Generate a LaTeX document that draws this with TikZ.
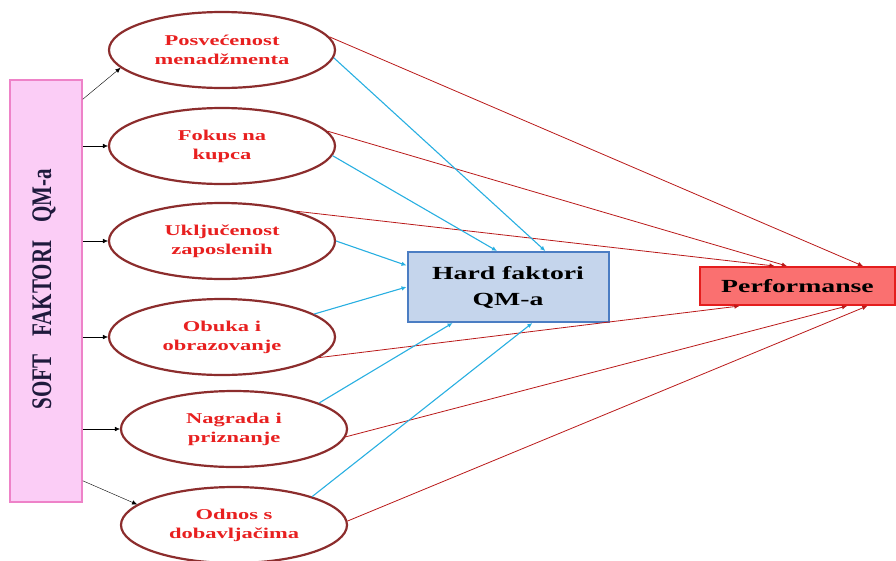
\documentclass[tikz,border=0pt]{standalone}
\usepackage{fontspec}
\usepackage{graphicx}
\setmainfont{Liberation Serif}
\newfontfamily\widefont[FakeStretch=1.5]{Liberation Serif}
\usetikzlibrary{shapes.geometric,arrows.meta}
\definecolor{softfill}{RGB}{251,205,246}
\definecolor{softline}{RGB}{238,130,200}
\definecolor{softtext}{RGB}{30,25,60}
\definecolor{ovalline}{RGB}{140,45,45}
\definecolor{ovaltext}{RGB}{232,32,32}
\definecolor{hardfill}{RGB}{197,213,236}
\definecolor{hardline}{RGB}{75,125,195}
\definecolor{perffill}{RGB}{250,112,112}
\definecolor{perfline}{RGB}{228,30,30}
\definecolor{tohard}{RGB}{40,175,225}
\definecolor{toperf}{RGB}{185,25,25}

\begin{document}
\begin{tikzpicture}[x=1pt,y=-1pt,>={Latex[length=5pt,width=4.5pt]},
                    oval/.style={ellipse,draw=ovalline,line width=2.2pt,fill=white,
                      minimum width=226pt,minimum height=76pt,inner sep=0pt,align=center,
                      text=ovaltext,font=\widefont\bfseries\fontsize{15}{19}\selectfont},
                    blk/.style={->,thin},
                    hardarrow/.style={->,tohard,line width=1.1pt},
                    perfarrow/.style={->,toperf,line width=0.8pt}]
                    \useasboundingbox (0,0) rectangle (896,560);
                    \node[draw=softline,fill=softfill,line width=1.5pt,minimum width=72pt,minimum height=422pt] (soft) at (46,291) {};
                    \node[rotate=90,text=softtext,font=\bfseries\fontsize{21}{25}\selectfont] (softlabel) at (44,289)
                        {\scalebox{1}[1.35]{SOFT\hspace{0.6em} FAKTORI\hspace{0.6em} QM-a}};
                    \node[draw=hardline,fill=hardfill,line width=2pt,minimum width=201pt,minimum height=70pt,align=center,
                        font=\widefont\bfseries\fontsize{18.5}{26}\selectfont] (hard) at (508,287) {Hard faktori\\QM-a};
                    \node[draw=perfline,fill=perffill,line width=2pt,minimum width=195pt,minimum height=38pt,
                        font=\widefont\bfseries\fontsize{18.5}{22}\selectfont] (perf) at (797.5,286) {Performanse};
                    \node[oval] (e1) at (222,50) {Posvećenost\\menadžmenta};
                    \node[oval] (e2) at (222,146) {Fokus na\\kupca};
                    \node[oval] (e3) at (222,241) {Uključenost\\zaposlenih};
                    \node[oval] (e4) at (222,337) {Obuka i\\obrazovanje};
                    \node[oval] (e5) at (234,429) {Nagrada i\\priznanje};
                    \node[oval] (e6) at (234,525) {Odnos s\\dobavljačima};
                    \draw[blk] ([yshift=-20pt]soft.north east) -- (e1.190);
                    \draw[blk] (soft.east |- e2) -- (e2.west);
                    \draw[blk] (soft.east |- e3) -- (e3.west);
                    \draw[blk] (soft.east |- e4) -- (e4.west);
                    \draw[blk] (soft.east |- e5) -- (e5.west);
                    \draw[blk] ([yshift=22pt]soft.south east) -- (e6.168);
                    \draw[perfarrow] (e1.7) -- (perf.17);
                    \draw[perfarrow] (e2.8) -- (perf.118);
                    \draw[perfarrow] (e3.22) -- (perf.139);
                    \draw[perfarrow] (e4.-12) -- (perf.199);
                    \draw[perfarrow] (e5.-4) -- (perf.338);
                    \draw[perfarrow] (e6.2) -- (perf.344);
                    \draw[hardarrow] (e1.-4) -- (hard.44);
                    \draw[hardarrow] (e2.-5) -- (hard.107);
                    \draw[hardarrow] (e3.east) -- (hard.168);
                    \draw[hardarrow] (e4.14) -- (hard.180);
                    \draw[hardarrow] (e5.17) -- (hard.213);
                    \draw[hardarrow] (e6.20) -- (hard.304);
\end{tikzpicture}
\end{document}
